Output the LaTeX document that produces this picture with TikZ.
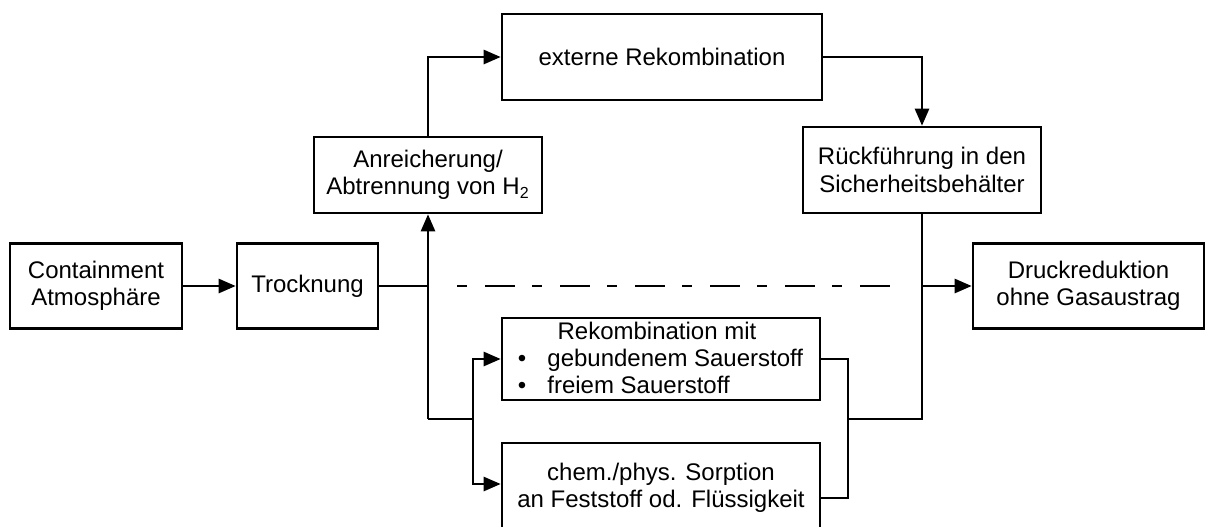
\documentclass[tikz,border=0pt]{standalone}
\usepackage{fontspec}
\setmainfont{Liberation Sans}
\usetikzlibrary{arrows.meta}
\tikzset{
  box/.style={draw, line width=1.3pt, inner sep=0pt, align=center, font=\fontsize{12}{13.6}\selectfont},
  txt/.style={inner sep=0pt, font=\fontsize{12}{13.6}\selectfont},
  conn/.style={line width=1.3pt},
  arr/.style={conn, -{Triangle[length=8.5pt,width=7pt]}},
  dashdot/.style={line width=1.3pt, dash pattern=on 5pt off 9pt on 15pt off 8.5pt}
}
\begin{document}
\begin{tikzpicture}[x=0.5pt,y=-0.5pt]
\useasboundingbox (0,0) rectangle (1205,526);
% boxes
\node[box, minimum width=86pt, minimum height=42.5pt] (cont) at (96,286) {Containment\\Atmosphäre};
\node[box, minimum width=70.5pt, minimum height=42.5pt] (trock) at (307.5,286) {Trocknung};
\node[box, minimum width=114pt, minimum height=38pt] (anr) at (428,175) {Anreicherung/\\Abtrennung von H\textsubscript{2}};
\node[box, minimum width=160pt, minimum height=43pt] (ext) at (662,57) {externe Rekombination};
\node[box, minimum width=119pt, minimum height=43pt] (rueck) at (922,170) {Rückführung in den\\Sicherheitsbehälter};
\node[box, minimum width=115.5pt, minimum height=42.5pt] (druck) at (1088.5,286) {Druckreduktion\\ohne Gasaustrag};
\node[box, minimum width=159pt, minimum height=41pt] (rek) at (661,359) {};
\node[txt, anchor=base] (rekt) at (657,339) {Rekombination mit};
\node[txt, anchor=base] (rekb1) at (522,366) {\textbullet};
\node[txt, anchor=base west] (rek1) at (547,366) {gebundenem Sauerstoff};
\node[txt, anchor=base] (rekb2) at (522,393) {\textbullet};
\node[txt, anchor=base west] (rek2) at (547,393) {freiem Sauerstoff};
\node[box, minimum width=159pt, minimum height=45pt] (chem) at (661,488) {chem./phys. Sorption\\an Feststoff od. Flüssigkeit};
% connectors
\draw[arr] (cont) -- (trock);
\coordinate (jl) at (428,419);
\coordinate (jl2) at (473,419);
\coordinate (jr) at (848,419);
\draw[conn] (trock.east) -- (trock.east -| anr.south);
\draw[arr] (jl) -- (anr.south);
\draw[arr] (anr.north) |- (ext.west);
\draw[arr] (ext.east) -| (rueck.north);
\draw[conn] (jl) -- (jl2);
\draw[arr] (jl2) |- (rek.west);
\draw[arr] (jl2) |- ([yshift=2pt]chem.west);
\draw[conn] (rek.east) -| (jr) |- ([yshift=-5pt]chem.east);
\draw[conn] (jr) -| (rueck.south);
\draw[arr] (rueck.south |- druck.west) -- (druck.west);
\coordinate (d1) at (457,286);
\coordinate (d2) at (890,286);
\draw[dashdot] (d1) -- (d2);
\end{tikzpicture}
\end{document}
